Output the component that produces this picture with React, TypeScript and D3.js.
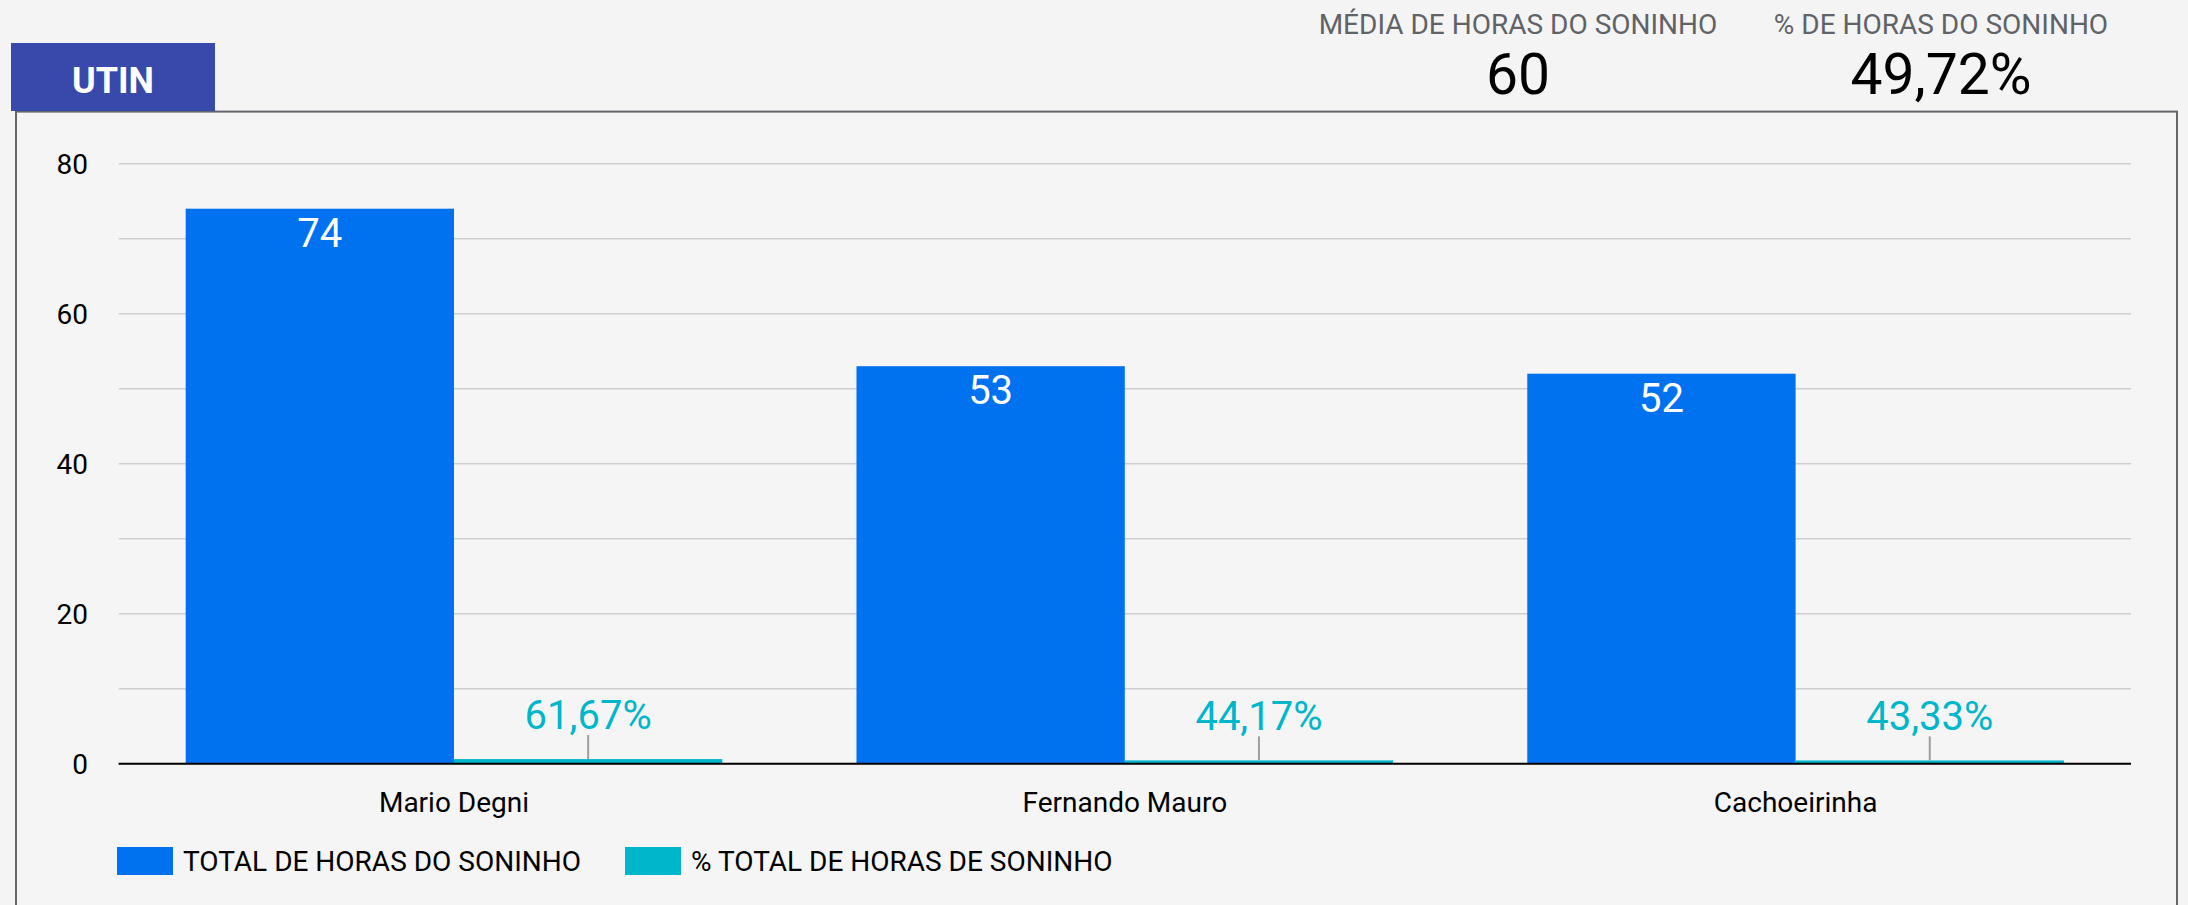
import React from "react";
import * as d3 from "d3";

const categories = ["Mario Degni", "Fernando Mauro", "Cachoeirinha"];
const totalHoras = [74, 53, 52];
const pctHoras = [61.67, 44.17, 43.33];
const pctLabels = ["61,67%", "44,17%", "43,33%"];
const yTickLabels = [0, 20, 40, 60, 80];
const gridValues = [0, 10, 20, 30, 40, 50, 60, 70, 80];
const seriesNames = ["TOTAL DE HORAS DO SONINHO", "% TOTAL DE HORAS DE SONINHO"];
const seriesColors = ["#0072f0", "#00b6cb"];
const kpiTitles = ["MÉDIA DE HORAS DO SONINHO", "% DE HORAS DO SONINHO"];
const kpiValues = ["60", "49,72%"];
const badgeTitle = "UTIN";

const W = 2188;
const H = 905;
const FONT = "Roboto, 'Noto Sans', sans-serif";

export default function App() {
  const plotLeft = 118.6;
  const plotRight = 2131;
  const yScale = d3.scaleLinear().domain([0, 80]).range([763.7, 163.7]);
  const x0 = d3.scaleBand<string>().domain(categories).range([plotLeft, plotRight]).padding(0);
  const bw = x0.bandwidth();
  const x1 = d3.scaleBand<string>().domain(["total", "pct"]).range([0.1 * bw, 0.9 * bw]).padding(0);

  const kpiCenters = [1518, 1941];

  return (
    <svg
      width={W}
      height={H}
      style={{ position: "absolute", left: 0, top: 0, fontFamily: FONT }}
    >
      <rect x={0} y={0} width={W} height={H} fill="#f4f4f4" />
      {/* frame */}
      <rect x={16} y={111.6} width={2161} height={900} fill="#f5f5f5" stroke="#63666a" strokeWidth={2} />
      {/* badge */}
      <rect x={11} y={43} width={204} height={68} fill="#3949ab" />
      <text x={113} y={92.5} textAnchor="middle" fill="#ffffff" fontSize={36} fontWeight="bold">
        {badgeTitle}
      </text>
      {/* KPIs */}
      {kpiTitles.map((t, i) => (
        <g key={t}>
          <text x={kpiCenters[i]} y={33.5} textAnchor="middle" fill="#5f6368" fontSize={28}>
            {t}
          </text>
          <text x={kpiCenters[i]} y={93.5} textAnchor="middle" fill="#000000" fontSize={57}>
            {kpiValues[i]}
          </text>
        </g>
      ))}
      {/* gridlines */}
      {gridValues.map((v) => (
        <line
          key={v}
          x1={plotLeft}
          x2={plotRight}
          y1={yScale(v)}
          y2={yScale(v)}
          stroke="#cfcfcf"
          strokeWidth={1.5}
        />
      ))}
      {/* y tick labels */}
      {yTickLabels.map((v) => (
        <text key={v} x={88} y={yScale(v)} dy="0.35em" textAnchor="end" fontSize={28} fill="#000">
          {v}
        </text>
      ))}
      {/* bars */}
      {categories.map((c, i) => {
        const gx = x0(c) as number;
        const bx = gx + (x1("total") as number);
        const px = gx + (x1("pct") as number);
        const w = x1.bandwidth();
        const pv = pctHoras[i] / 100;
        return (
          <g key={c}>
            <rect
              x={bx}
              y={yScale(totalHoras[i])}
              width={w}
              height={yScale(0) - yScale(totalHoras[i])}
              fill={seriesColors[0]}
            />
            <text
              x={bx + w / 2}
              y={yScale(totalHoras[i]) + 38}
              textAnchor="middle"
              fill="#ffffff"
              fontSize={40}
            >
              {totalHoras[i]}
            </text>
            <rect
              x={px}
              y={yScale(pv)}
              width={w}
              height={yScale(0) - yScale(pv)}
              fill={seriesColors[1]}
            />
            <line
              x1={px + w / 2}
              x2={px + w / 2}
              y1={yScale(pv) - 24}
              y2={yScale(pv)}
              stroke="#9e9e9e"
              strokeWidth={2}
            />
            <text
              x={px + w / 2}
              y={yScale(pv) - 30}
              textAnchor="middle"
              fill={seriesColors[1]}
              fontSize={40}
            >
              {pctLabels[i]}
            </text>
            <text x={gx + bw / 2} y={812} textAnchor="middle" fontSize={28} fill="#000">
              {c}
            </text>
          </g>
        );
      })}
      {/* zero axis */}
      <line x1={plotLeft} x2={plotRight} y1={yScale(0)} y2={yScale(0)} stroke="#000" strokeWidth={2} />
      {/* legend */}
      {seriesNames.map((s, i) => {
        const lx = [117, 625][i];
        return (
          <g key={s}>
            <rect x={lx} y={847} width={56} height={28} fill={seriesColors[i]} />
            <text x={lx + 66} y={871} fontSize={28} fill="#000">
              {s}
            </text>
          </g>
        );
      })}
    </svg>
  );
}
